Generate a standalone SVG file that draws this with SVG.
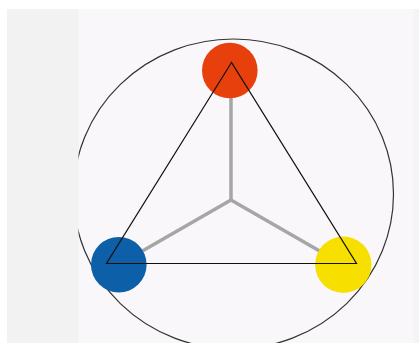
<svg xmlns="http://www.w3.org/2000/svg" width="419" height="343" viewBox="0 0 419 343">
  <defs>
    <clipPath id="panelClip"><rect x="78.5" y="9" width="335" height="334"/></clipPath>
    <filter id="soft" x="-20%" y="-20%" width="140%" height="140%"><feGaussianBlur stdDeviation="0.7"/></filter>
  </defs>
  <style>
    .spoke { stroke: #a6a6a6; stroke-width: 3.5; stroke-linecap: round; fill: none; }
    .tri { stroke: #111; stroke-width: 1.2; fill: none; stroke-linejoin: miter; }
    .ring { stroke: #333333; stroke-width: 1.2; fill: none; }
    .dot { filter: url(#soft); }
  </style>
  <rect x="0" y="0" width="419" height="343" fill="#ffffff"/>
  <rect x="7" y="9" width="412" height="334" fill="#f2f2f2"/>
  <rect x="78.5" y="9" width="335" height="334" fill="#f9f7f9"/>
  <rect x="413" y="9" width="6" height="334" fill="#f4f4f6"/>
  <g id="ring" clip-path="url(#panelClip)">
    <ellipse class="ring" cx="233.5" cy="194" rx="160" ry="155"/>
  </g>
  <g id="connectors">
    <line class="spoke" x1="231" y1="95" x2="231" y2="200"/>
    <line class="spoke" x1="231" y1="200" x2="125" y2="261"/>
    <line class="spoke" x1="231" y1="200" x2="337" y2="261"/>
  </g>
  <g id="red"><circle class="dot" cx="229.8" cy="70.5" r="27.8" fill="#e8400f"/></g>
  <g id="blue"><circle class="dot" cx="118.8" cy="264.7" r="27.8" fill="#0c5fa8"/></g>
  <g id="yellow"><circle class="dot" cx="343.3" cy="264.7" r="28.2" fill="#f7df00"/></g>
  <g id="triangle">
    <polygon class="tri" points="231.5,62.5 106.5,263.5 356.5,263.5"/>
  </g>
</svg>
